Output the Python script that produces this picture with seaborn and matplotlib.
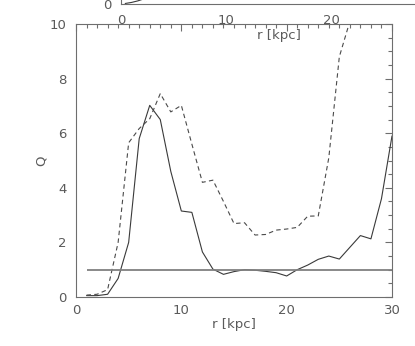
import numpy as np
import pandas as pd
import matplotlib
matplotlib.use('Agg')
import matplotlib.pyplot as plt
import seaborn as sns
from matplotlib.ticker import MultipleLocator

# Valores
r = list(range(1, 31))
q_solido = [0.05, 0.05, 0.1, 0.68, 2.0, 5.8, 7.02, 6.5, 4.6, 3.15,
            3.1, 1.65, 1.02, 0.83, 0.93, 1.0, 0.98, 0.94, 0.89, 0.77,
            1.0, 1.17, 1.38, 1.5, 1.39, 1.82, 2.25, 2.13, 3.6, 5.9]
q_tracejado = [0.07, 0.1, 0.27, 2.0, 5.65, 6.17, 6.53, 7.45, 6.78, 7.02,
               5.6, 4.2, 4.28, 3.5, 2.69, 2.72, 2.27, 2.29, 2.45, 2.49,
               2.55, 2.96, 2.97, 5.1, 8.8, 10.1, 12.5, 15.0, 18.0, 22.0]
q_critico = 1.0

# pedaço do painel de cima (cortado)
r_topo = [0.4, 1.0, 1.6, 2.2]
v_topo = [0.05, 0.15, 0.3, 0.5]
ticks_topo = [0, 10, 20]

df = pd.DataFrame({'r': r, 'solido': q_solido, 'tracejado': q_tracejado})

sns.set_style('white')
plt.rcParams['font.family'] = ['DejaVu Sans']
cor_txt = '#5a5a5a'
cor_eixo = '#6e6e6e'
cor_linha = '#3a3a3a'

fig = plt.figure(figsize=(4.15, 3.46), dpi=100)

# painel principal
ax = fig.add_axes([76 / 415, 1 - 297 / 346, 316 / 415, 273 / 346])
sns.lineplot(data=df, x='r', y='solido', ax=ax, color=cor_linha, lw=0.8)
sns.lineplot(data=df, x='r', y='tracejado', ax=ax, color='#4a4a4a', lw=0.8,
             dashes=False, linestyle=(0, (4, 3)))
ax.hlines(q_critico, r[0], r[-1], color='#808080', lw=1.3)

ax.set_xlim(0, 30)
ax.set_ylim(0, 10)
ax.xaxis.set_major_locator(MultipleLocator(10))
ax.xaxis.set_minor_locator(MultipleLocator(1))
ax.yaxis.set_major_locator(MultipleLocator(2))
ax.yaxis.set_minor_locator(MultipleLocator(0.5))
ax.tick_params(which='both', direction='in', top=True, right=True,
               color=cor_eixo, labelcolor=cor_txt, labelsize=9.5, width=0.8)
ax.tick_params(which='major', length=5, pad=7)
ax.tick_params(axis='x', which='major', pad=5)
ax.tick_params(which='minor', length=3)
for s in ax.spines.values():
    s.set_color(cor_eixo)
    s.set_linewidth(0.8)
ax.set_xlabel('r [kpc]', color=cor_txt, fontsize=9.5, labelpad=1)
ax.set_ylabel('Q', color=cor_txt, fontsize=9.5, labelpad=1)

# painel de cima, quase todo fora da figura
ax2 = fig.add_axes([121 / 415, 1 - 4 / 346, 315 / 415, 0.3])
ax2.plot(r_topo, v_topo, color=cor_linha, lw=0.8)
ax2.set_xlim(0, 30)
ax2.set_ylim(0, 10)
ax2.set_xticks(ticks_topo)
ax2.xaxis.set_minor_locator(MultipleLocator(1))
ax2.yaxis.set_major_locator(MultipleLocator(10))
ax2.tick_params(which='both', direction='in', color=cor_eixo,
                labelcolor=cor_txt, labelsize=9.5, width=0.8)
ax2.tick_params(which='major', length=5, pad=7)
ax2.tick_params(which='minor', length=3)
ax2.patch.set_alpha(0)
for s in ax2.spines.values():
    s.set_color(cor_eixo)
    s.set_linewidth(0.8)
ax2.set_xlabel('r [kpc]', color=cor_txt, fontsize=9.5, labelpad=2)

fig.savefig('out.png', dpi=100)
